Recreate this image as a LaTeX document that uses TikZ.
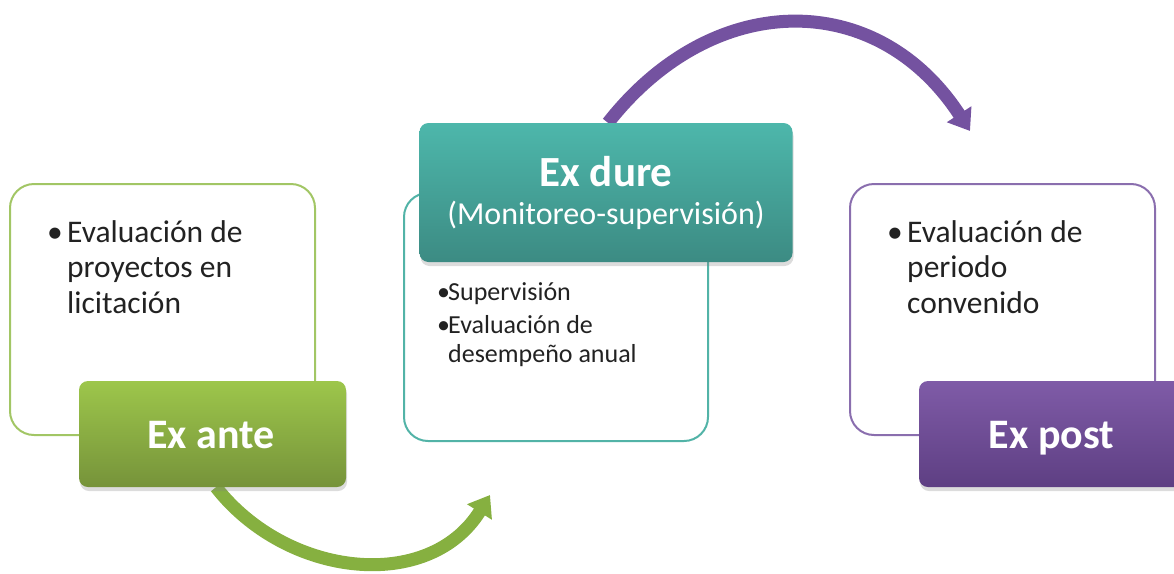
\documentclass[tikz,border=0pt]{standalone}
\usepackage{fontspec}
\setmainfont{Carlito}
\usetikzlibrary{arrows.meta,shadows,backgrounds}
\definecolor{gline}{HTML}{A2C665}
\definecolor{gtop}{HTML}{9DC64B}
\definecolor{gbot}{HTML}{76933A}
\definecolor{garr}{HTML}{86B040}
\definecolor{tline}{HTML}{52B3A7}
\definecolor{ttop}{HTML}{4DB7AB}
\definecolor{tbot}{HTML}{3C8B83}
\definecolor{pline}{HTML}{8A6EAE}
\definecolor{ptop}{HTML}{7F5BA7}
\definecolor{pbot}{HTML}{5E3F83}
\definecolor{parr}{HTML}{7452A0}
\definecolor{txt}{HTML}{222222}
\begin{document}
\begin{tikzpicture}[x=1pt,y=-1pt,
  outbox/.style={draw=#1, line width=2pt, rounded corners=24pt, inner sep=0pt,
    minimum width=305pt, minimum height=251pt},
  labbox/.style={rounded corners=9pt, inner sep=0pt,
    drop shadow={opacity=0.28, shadow xshift=1pt, shadow yshift=-4pt}},
  title/.style={anchor=base, inner sep=0pt, text=white, font=\fontsize{42}{50}\selectfont\bfseries},
  body/.style={anchor=base west, inner sep=0pt, text=txt},
  bigarrow/.style={line width=13pt, draw=#1, -{Triangle[width=28pt,length=20pt]}}
]
\useasboundingbox (0,0) rectangle (1174,573);
\clip (0,0) rectangle (1174,573);

% outline boxes
\node[outbox=gline] (box1) at (162.5,309.5) {};
\node[outbox=tline, minimum width=304pt, minimum height=248pt] (box2) at (556,317) {};
\node[outbox=pline] (box3) at (1002.5,309.5) {};

% coloured labels
\node[labbox, top color=gtop, bottom color=gbot, minimum width=267pt, minimum height=106pt] (lab1) at (212.5,434) {};
\node[labbox, top color=ttop, bottom color=tbot, minimum width=373pt, minimum height=139pt] (lab2) at (606,192.5) {};
\node[labbox, top color=ptop, bottom color=pbot, minimum width=267pt, minimum height=106pt] (lab3) at (1052.5,434) {};

% arrow end points
\coordinate (gend) at (490,495);
\coordinate (pend) at (970,131);

\begin{scope}[on background layer]
  \draw[bigarrow=garr] ([xshift=3.5pt]lab1.south) .. controls (287,578) and (429,593) .. (gend);
  \draw[bigarrow=parr] ([xshift=2pt]lab2.north) .. controls (713,-11) and (877,-12) .. (pend);
\end{scope}

% titles
\node[title] (t1) at (211,448) {Ex ante};
\node[title, font=\fontsize{43}{50}\selectfont\bfseries] (t2a) at (606,186) {Ex dure};
\node[title, font=\fontsize{32}{38}\selectfont] (t2b) at (606,224) {(Monitoreo-supervisión)};
\node[title] (t3) at (1051.5,448) {Ex post};

% body texts
\node[body, font=\fontsize{31.5}{35.5}\selectfont] (b1) at (47,242)
  {\begin{tabular}[t]{@{}p{20pt}@{}l@{}}\textbullet&Evaluación de\\&proyectos en\\&licitación\end{tabular}};
\node[body, font=\fontsize{26}{29}\selectfont] (b2) at (437,300)
  {\begin{tabular}[t]{@{}p{11pt}@{}l@{}}\textbullet&Supervisión\\[4pt]\textbullet&Evaluación de\\&desempeño anual\end{tabular}};
\node[body, font=\fontsize{31.5}{35.5}\selectfont] (b3) at (887,242)
  {\begin{tabular}[t]{@{}p{20pt}@{}l@{}}\textbullet&Evaluación de\\&periodo\\&convenido\end{tabular}};
\end{tikzpicture}
\end{document}
